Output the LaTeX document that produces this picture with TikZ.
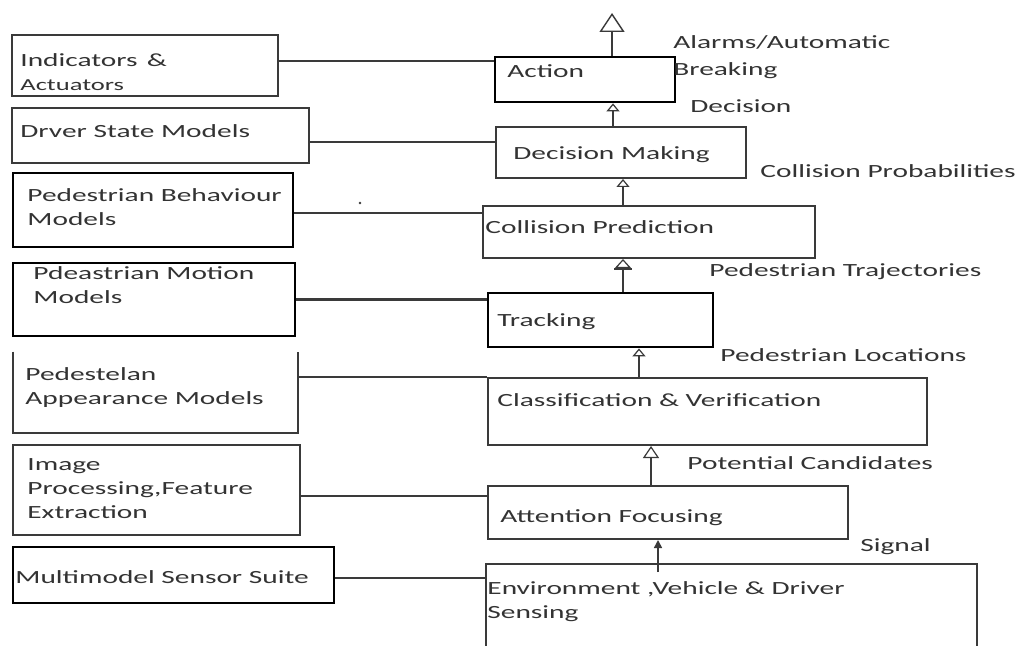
\documentclass[tikz,border=0pt]{standalone}
\usepackage{fontspec}
\setmainfont{Carlito}[FakeStretch=1.58]
\usetikzlibrary{arrows.meta,fit}

\definecolor{ink}{HTML}{333333}
\definecolor{rule}{HTML}{3A3A3A}

\begin{document}
\begin{tikzpicture}[x=0.5pt,y=-0.5pt,
  font=\fontsize{9.3}{12}\selectfont,
  box/.style={draw=rule,line width=1pt,inner sep=0pt},
  heavy/.style={draw=black,line width=1.4pt},
  txt/.style={anchor=base west,inner sep=0pt,align=left,text=ink},
  link/.style={draw=rule,line width=0.8pt},
  up/.style={link,-{Triangle[open,length=4pt,width=6.5pt,line width=0.6pt]}}]
  \path[fill=white,use as bounding box] (0,0) rectangle (1026,646);

  % models on the left
  \node[box,fit={(12,35)(278,96)}] (ind) {};
  \node[box,fit={(12,108)(309,163)}] (drv) {};
  \node[box,heavy,fit={(13,173)(293,247)}] (beh) {};
  \node[box,heavy,fit={(13,263)(295,336)}] (mot) {};
  \node[inner sep=0pt,fit={(13,352)(298,433)}] (app) {};
  \draw[rule,line width=1pt] (app.north west) -- (app.south west) -- (app.south east) -- (app.north east);
  \node[box,fit={(13,445)(300,535)}] (img) {};
  \node[box,heavy,fit={(13,547)(334,603)}] (sen) {};

  % (base = last line)
  \node[txt] (indT) at (20,91) {Indicators\enspace\&\\{\fontsize{8.4}{12}\selectfont Actuators}};
  \node[txt] (drvT) at (20,138) {Drver State Models};
  \node[txt] (behT) at (27,226) {Pedestrian Behaviour\\Models};
  \node[txt] (motT) at (33,304) {Pdeastrian Motion\\Models};
  \node[txt] (appT) at (25,404) {Pedestelan\\Appearance Models};
  \node[txt] (imgT) at (27,518) {Image\\Processing,Feature\\Extraction};
  \node[txt] (senT) at (15,583) {Multimodel Sensor Suite};

  % processing chain on the right
  \node[box,heavy,fit={(495,57)(675,102)}] (act) {};
  \node[box,fit={(496,127)(746,178)}] (dec) {};
  \node[box,fit={(483,206)(815,258)}] (col) {};
  \node[box,heavy,fit={(488,293)(713,347)}] (trk) {};
  \node[box,fit={(488,378)(927,445)}] (cls) {};
  \node[box,fit={(488,486)(848,539)}] (att) {};
  \node[box,fit={(486,564)(977,660)}] (env) {};

  \node[txt] (actT) at (507,78) {Action};
  \node[txt] (decT) at (513,160) {Decision Making};
  \node[txt] (colT) at (485,234) {Collision Prediction};
  \node[txt] (trkT) at (497,326) {Tracking};
  \node[txt] (clsT) at (497,406) {Classification \& Verification};
  \node[txt] (attT) at (500,522) {Attention Focusing};
  \node[txt] (envT) at (487,618) {Environment ,Vehicle \& Driver\\Sensing};

  % what flows upwards
  \node[txt] (alarm) at (673,76) {Alarms/Automatic\\[1.5pt]Breaking};
  \node[txt] (decision) at (690,113) {Decision};
  \node[txt] (prob) at (760,178) {Collision Probabilities};
  \node[txt] (traj) at (709,277) {Pedestrian Trajectories};
  \node[txt] (locs) at (720,361) {Pedestrian Locations};
  \node[txt] (cand) at (687,469) {Potential Candidates};
  \node[txt] (signal) at (860,551) {Signal};

  % links from the models
  \draw[link] ([yshift=2.25pt]ind.east) -- ([yshift=2.25pt]ind.east -| act.west);
  \draw[link] ([yshift=-3.25pt]drv.east) -- ([yshift=-3.25pt]drv.east -| dec.west);
  \draw[link] ([yshift=-1.5pt]beh.east) -- ([yshift=-1.5pt]beh.east -| col.west);
  \draw[link,line width=1.3pt] (mot.east) -- (mot.east -| trk.west);
  \draw[link] (app.east |- cls.north west) -- (cls.north west);
  \draw[link] ([yshift=-3pt]img.east) -- ([yshift=-3pt]img.east -| att.west);
  \draw[link] ([yshift=-1.5pt]sen.east) -- ([yshift=-1.5pt]sen.east -| env.west);
  \fill[rule] (360,203) circle (0.7pt);

  % arrows up the chain
  \coordinate (alarmTip) at (612,13);
  \draw[link,-{Triangle[open,length=9.5pt,width=12.5pt,line width=0.7pt]}] (act.north -| alarmTip) -- (alarmTip);
  \draw[up] ([xshift=-4pt]dec.north) -- ([xshift=-4pt]dec.north |- act.south);
  \draw[up] ([xshift=-13pt]col.north) -- ([xshift=-13pt]col.north |- dec.south);
  \draw[link,-{Bar[width=9pt,sep=0pt]Triangle[open,length=4.5pt,width=8pt,line width=0.6pt]}] ([xshift=11.25pt]trk.north) -- ([xshift=11.25pt]trk.north |- col.south);
  \draw[up] ([xshift=-34.25pt]cls.north) -- ([xshift=-34.25pt]cls.north |- trk.south);
  \draw[up,-{Triangle[open,length=6pt,width=8pt,line width=0.6pt]}] ([xshift=-8.5pt]att.north) -- ([xshift=-8.5pt]att.north |- cls.south);
  \draw[link,-{Triangle[length=4pt,width=4pt]}] ([xshift=-36.75pt,yshift=-4.5pt]env.north) -- ([xshift=-36.75pt]env.north |- att.south);
\end{tikzpicture}
\end{document}
